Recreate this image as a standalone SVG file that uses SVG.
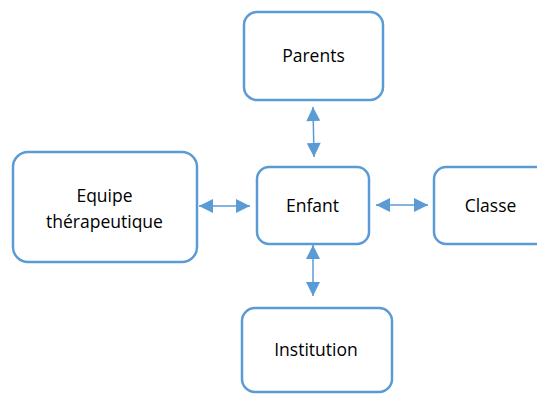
<svg xmlns="http://www.w3.org/2000/svg" width="537" height="394" viewBox="0 0 537 394">
<style>
.box{fill:#fff;stroke:#5B9BD5;stroke-width:2.5}
.lbl{font-family:"Open Sans","Liberation Sans",sans-serif;font-size:17.5px;fill:#000;text-anchor:middle}
.con{stroke:#5B9BD5;stroke-width:1.5;fill:none;marker-start:url(#a);marker-end:url(#a)}
</style>
<defs>
<marker id="a" viewBox="0 0 10 10" refX="10" refY="5" markerWidth="15" markerHeight="14" markerUnits="userSpaceOnUse" orient="auto-start-reverse">
<path d="M0,0 L10,5 L0,10 Z" fill="#5B9BD5"/>
</marker>
</defs>
<rect width="537" height="394" fill="#fff"/>
<g id="connectors">
<line class="con" x1="313" y1="107" x2="314" y2="157"/>
<line class="con" x1="199" y1="206" x2="250" y2="206"/>
<line class="con" x1="376" y1="205" x2="428" y2="205"/>
<line class="con" x1="313" y1="245" x2="313" y2="296"/>
</g>
<g id="parents">
<rect class="box" x="244" y="12" width="139" height="88" rx="13"/>
<text class="lbl" x="313.5" y="62">Parents</text>
</g>
<g id="enfant">
<rect class="box" x="257" y="167" width="112" height="77" rx="12"/>
<text class="lbl" x="312.5" y="212">Enfant</text>
</g>
<g id="classe">
<rect class="box" x="434" y="167" width="115" height="77" rx="12"/>
<text class="lbl" x="490.5" y="212">Classe</text>
</g>
<g id="equipe">
<rect class="box" x="13" y="152" width="184" height="110" rx="15"/>
<text class="lbl" x="104.5" y="201.5">Equipe</text>
<text class="lbl" x="104.5" y="228">thérapeutique</text>
</g>
<g id="institution">
<rect class="box" x="242" y="308" width="150" height="84" rx="13"/>
<text class="lbl" x="316" y="356">Institution</text>
</g>
</svg>
